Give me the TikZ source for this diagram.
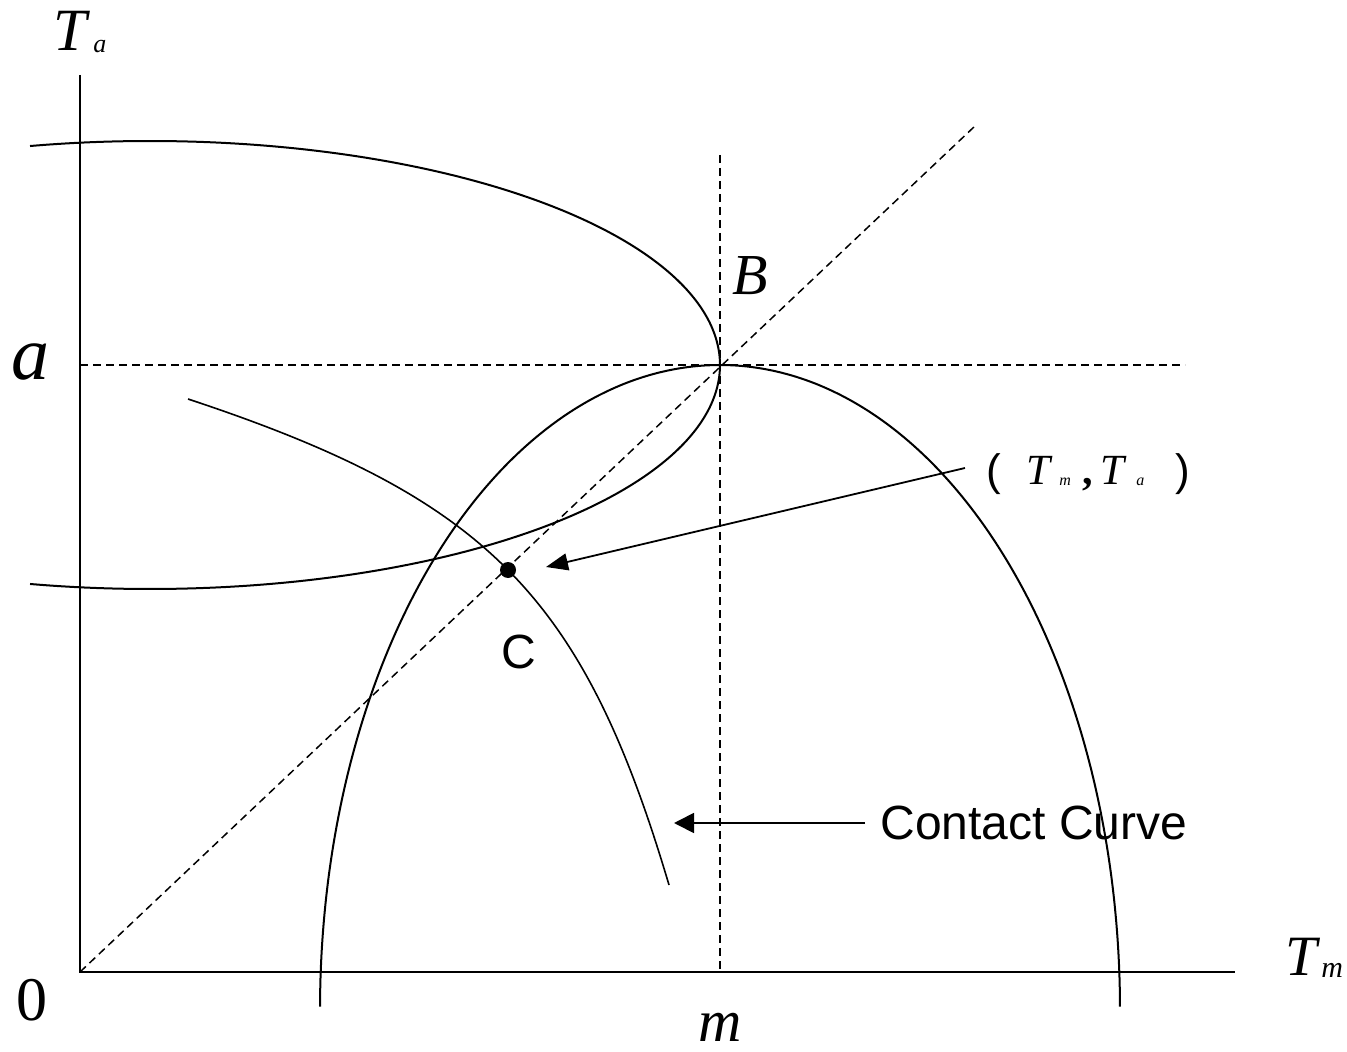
\documentclass[tikz,border=0pt]{standalone}
\usepackage{fontspec}
\setmainfont{Liberation Serif}
\setsansfont{Liberation Sans}
\usetikzlibrary{arrows.meta}
\begin{document}
\begin{tikzpicture}[x=0.5pt,y=-0.5pt,
  axis/.style={line width=1pt},
  curve/.style={line width=1pt},
  thin curve/.style={line width=0.8pt},
  guide/.style={line width=0.75pt, dash pattern=on 4pt off 2.5pt},
  pointer/.style={line width=0.9pt},
  lbl/.style={inner sep=0pt, anchor=base west},
  mathlbl/.style={lbl, font=\itshape},
]
\useasboundingbox (0,0) rectangle (1347,1052);

% axes
\coordinate (O) at (80,972);
\coordinate (ytop) at (80,75);
\coordinate (xend) at (1235,972);
\draw[axis] (ytop) -- (O) -- (xend);

% dashed guides
\coordinate (B) at (720,365);
\coordinate (hl) at (80,365);
\coordinate (hr) at (1185,365);
\coordinate (vt) at (720,155);
\coordinate (vb) at (720,972);
\coordinate (dt) at (975,126);
\draw[guide] (hl) -- (hr);
\draw[guide] (vt) -- (vb);
\draw[guide] (O) -- (dt);

% sideways ellipse
\draw[curve] plot[domain=-102.15:102.15, samples=160, smooth]
  ({150+570*cos(\x)},{365+224*sin(\x)});

% arch
\draw[curve] plot[domain=180.3:359.7, samples=200, smooth]
  ({720+400*cos(\x)},{1010+645*sin(\x)});

% contact curve
\coordinate (cs) at (188,399);
\coordinate (ce) at (669,885);
\draw[thin curve] (cs) .. controls (487,498) and (583,595) .. (ce);

% point C
\node[circle, fill=black, inner sep=0pt, minimum size=8pt] (Cdot) at (508,570) {};
\node[inner sep=0pt, font=\sffamily\fontsize{24}{28}\selectfont] (Clbl) at (519,652) {C};

% labels
\node[mathlbl, font=\itshape\fontsize{30}{34}\selectfont] (Ta) at (53,51) {T};
\node[mathlbl, font=\itshape\fontsize{13}{16}\selectfont] (Tasub) at (93,53) {a};
\node[mathlbl, font=\itshape\fontsize{38}{44}\selectfont] (alab) at (11,380) {a};
\node[lbl, font=\fontsize{31}{36}\selectfont] (zero) at (16,1020) {0};
\node[mathlbl, font=\itshape\fontsize{30}{34}\selectfont] (mlab) at (698,1041) {m};
\node[mathlbl, font=\itshape\fontsize{29}{34}\selectfont] (Blab) at (732,295) {B};
\node[mathlbl, font=\itshape\fontsize{28.5}{32}\selectfont] (Tm) at (1285,975) {T};
\node[mathlbl, font=\itshape\fontsize{15}{18}\selectfont] (Tmsub) at (1321,977) {m};

% (T_m , T_a)
\node[lbl, font=\sffamily\fontsize{22}{26}\selectfont] (lp) at (986,486) {(};
\node[mathlbl, font=\itshape\fontsize{21.5}{25}\selectfont] (pT1) at (1026,485) {T};
\node[mathlbl, font=\itshape\fontsize{8}{10}\selectfont] (pm) at (1059,486) {m};
\node[lbl, font=\bfseries\fontsize{21}{25}\selectfont] (pc) at (1082,485) {,};
\node[mathlbl, font=\itshape\fontsize{21.5}{25}\selectfont] (pT2) at (1100,485) {T};
\node[mathlbl, font=\itshape\fontsize{8}{10}\selectfont] (pa) at (1136,486) {a};
\node[lbl, font=\sffamily\fontsize{22}{26}\selectfont] (rp) at (1175,486) {)};

\node[lbl, font=\sffamily\fontsize{24}{28}\selectfont] (cc) at (880,839) {Contact Curve};

% pointers
\coordinate (a1s) at (965,468);
\coordinate (a1e) at (546,567);
\draw[pointer, -{Triangle[length=11pt,width=8.5pt]}] (a1s) -- (a1e);
\coordinate (a2s) at (865,823);
\coordinate (a2e) at (674,823);
\draw[pointer, -{Triangle[length=10pt,width=10pt]}] (a2s) -- (a2e);
\end{tikzpicture}
\end{document}
